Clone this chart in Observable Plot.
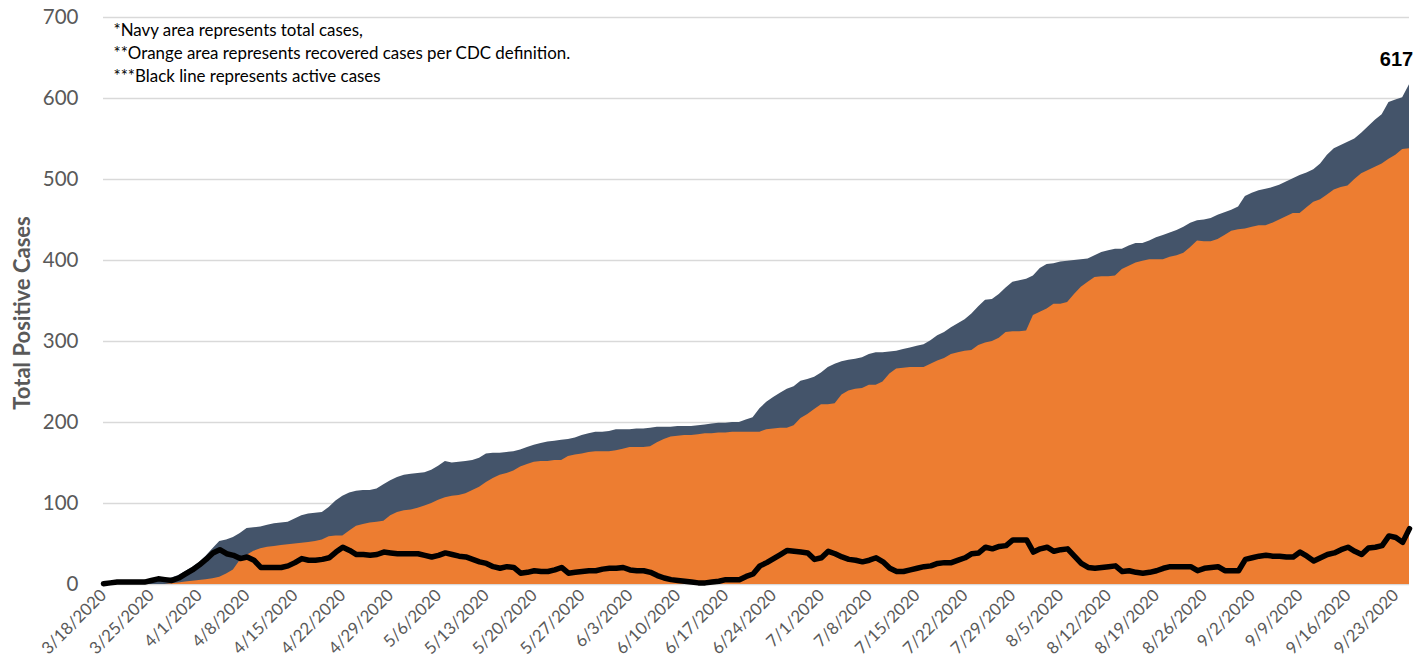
<!DOCTYPE html>
<html>
<head>
<meta charset="utf-8">
<script src="https://cdn.jsdelivr.net/npm/d3@7"></script>
<script src="https://cdn.jsdelivr.net/npm/@observablehq/plot@0.6"></script>
<style>
  html, body { margin: 0; padding: 0; background: #fff; }
  #chart svg { font-family: Lato, "Open Sans", sans-serif; }
</style>
</head>
<body>
<div id="chart"></div>
<script>
// Daily series starting 3/18/2020
const startDay = [2020, 2, 18];

const totalCases = [
  1,2,3,3,3,3,3,5,6,6,
  8,11,16,21,27,35,44,53,55,58,
  63,69,70,71,73,75,76,77,81,85,
  87,88,89,95,103,109,113,115,116,116,
  118,123,128,132,135,136,137,138,141,146,
  152,150,151,152,153,156,161,162,162,163,
  164,166,169,172,174,176,177,178,179,181,
  184,186,188,188,189,191,191,191,192,192,
  193,194,194,194,195,195,195,196,197,198,
  199,199,200,200,203,206,217,225,231,236,
  241,244,251,253,256,261,268,272,275,277,
  278,280,284,286,286,287,288,290,292,294,
  296,301,307,311,317,322,327,334,343,351,
  352,358,366,373,375,377,381,390,395,396,
  398,399,400,401,402,406,410,412,414,414,
  418,421,421,424,428,431,434,437,441,446,
  449,450,452,456,459,462,466,479,483,486,
  488,490,493,497,501,505,508,512,519,530,
  538,542,546,550,557,565,573,580,595,598,
  601,617
];

const recoveredCases = [
  0,0,0,0,0,0,0,0,0,0,
  1,2,3,4,5,6,7,9,13,18,
  30,36,41,44,46,47,48,49,50,51,
  52,53,55,59,60,60,66,72,74,76,
  77,78,85,89,91,92,94,97,100,104,
  107,109,110,112,116,120,126,131,135,137,
  140,145,148,151,152,152,153,153,158,160,
  161,163,164,164,164,165,167,169,169,169,
  170,175,179,182,183,184,184,185,186,186,
  187,187,188,188,188,188,188,191,192,193,
  193,196,205,210,216,222,222,223,234,239,
  241,242,246,246,250,260,266,267,268,268,
  268,272,276,279,284,286,288,289,295,298,
  300,304,311,312,312,313,332,336,340,346,
  346,348,358,367,373,379,380,380,381,389,
  393,397,399,401,401,401,404,406,409,416,
  424,423,423,426,431,436,438,439,441,443,
  443,446,450,454,458,458,465,472,475,481,
  487,490,492,500,507,511,515,519,525,530,
  537,538
];

const activeCases = [
  1,2,3,3,3,3,3,5,7,6,
  5,8,13,18,24,31,39,43,38,36,
  32,34,30,21,21,21,21,23,27,32,
  30,30,31,33,40,46,42,37,37,36,
  37,40,39,38,38,38,38,36,34,36,
  39,37,35,34,31,28,26,22,20,22,
  21,14,15,17,16,16,18,21,14,15,
  16,17,17,19,20,20,21,18,17,17,
  15,11,8,6,5,4,3,2,2,3,
  4,6,6,6,10,13,23,27,32,37,
  42,41,40,39,31,33,41,38,34,31,
  30,28,30,33,28,20,16,16,18,20,
  22,23,26,27,27,30,33,38,39,46,
  44,47,48,55,55,55,40,44,46,41,
  43,44,35,26,21,20,21,22,23,16,
  17,15,14,15,17,20,22,22,22,22,
  17,20,21,22,17,17,17,31,33,35,
  36,35,35,34,34,40,35,29,33,37,
  39,43,46,41,37,45,46,48,60,58,
  52,69
];

const xTickLabels = [
  "3/18/2020","3/25/2020","4/1/2020","4/8/2020","4/15/2020","4/22/2020","4/29/2020",
  "5/6/2020","5/13/2020","5/20/2020","5/27/2020","6/3/2020","6/10/2020","6/17/2020",
  "6/24/2020","7/1/2020","7/8/2020","7/15/2020","7/22/2020","7/29/2020","8/5/2020",
  "8/12/2020","8/19/2020","8/26/2020","9/2/2020","9/9/2020","9/16/2020","9/23/2020"
];
const yTicks = [0, 100, 200, 300, 400, 500, 600, 700];

const notes = [
  "*Navy area represents total cases,",
  "**Orange area represents recovered cases per CDC definition.",
  "***Black line represents active cases"
];
const yTitle = "Total Positive Cases";
const lastLabel = "617";

// Build table
const data = totalCases.map((t, i) => ({
  date: new Date(Date.UTC(startDay[0], startDay[1], startDay[2] + i)),
  total: t,
  recovered: recoveredCases[i],
  active: activeCases[i]
}));
const parseLabel = s => { const [m, d, y] = s.split("/").map(Number); return new Date(Date.UTC(y, m - 1, d)); };
const xTicks = xTickLabels.map(parseLabel);
const fmt = d3.utcFormat("%-m/%-d/%Y");
const last = data[data.length - 1];

const chart = Plot.plot({
  width: 1421,
  height: 670,
  marginLeft: 103,
  marginRight: 12,
  marginTop: 17,
  marginBottom: 86,
  style: { fontFamily: "Lato, sans-serif", background: "#fff" },
  x: { type: "utc", domain: [data[0].date, last.date] },
  y: { domain: [0, 700] },
  marks: [
    Plot.gridY(yTicks, { stroke: "#d9d9d9", strokeOpacity: 1, strokeWidth: 1.6 }),
    Plot.areaY(data, { x: "date", y: "total", fill: "#44546a", curve: "linear" }),
    Plot.areaY(data, { x: "date", y: "recovered", fill: "#ed7d31", curve: "linear" }),
    Plot.lineY(data, { x: "date", y: "active", stroke: "#000", strokeWidth: 5.5, strokeLinejoin: "round", strokeLinecap: "round" }),
    Plot.axisX({
      ticks: xTicks, tickFormat: fmt, tickRotate: -45, tickSize: 0, tickPadding: 8,
      fontSize: 16.8, fill: "#595959", label: null
    }),
    Plot.axisY({
      ticks: yTicks, tickSize: 0, tickPadding: 25, fontSize: 20.5, fill: "#595959", label: null
    }),
    Plot.text([yTitle], {
      frameAnchor: "left", text: d => d, rotate: -90, textAnchor: "middle", dx: -81, dy: 12,
      fontSize: 22, fontWeight: "bold", fill: "#595959"
    }),
    Plot.text([notes.join("\n")], {
      frameAnchor: "top-left", text: d => d, textAnchor: "start", lineAnchor: "top",
      dx: 10, dy: 2, fontSize: 16.9, lineHeight: 1.36, fill: "#000"
    }),
    Plot.text([last], {
      x: "date", y: "total", text: () => lastLabel, dx: -13, dy: -25,
      fontSize: 20, fontWeight: "bold", fontFamily: "Liberation Sans, Arial, sans-serif", fill: "#000"
    })
  ]
});
document.getElementById("chart").appendChild(chart);
</script>
</body>
</html>
